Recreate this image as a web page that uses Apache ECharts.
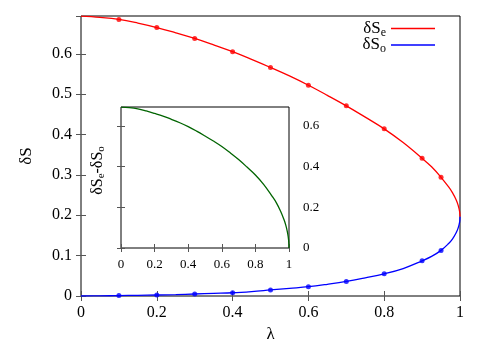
<!DOCTYPE html>
<html>
<head>
<meta charset="utf-8">
<script src="https://cdn.jsdelivr.net/npm/echarts@6/dist/echarts.min.js"></script>
<style>html,body{margin:0;padding:0;background:#fff;}#c{width:498px;height:349px;}</style>
</head>
<body>
<div id="c"></div>
<script>
// λ grid for curves
const lambdas = [0,0.05,0.1,0.15,0.2,0.25,0.3,0.35,0.4,0.45,0.5,0.55,0.6,0.65,0.7,0.75,0.8,0.85,0.9,0.925,0.95,0.97,0.98,0.99,0.995,0.999,1];
const dSe = [0.693,0.690,0.685,0.676,0.665,0.652,0.638,0.622,0.605,0.586,0.566,0.545,0.522,0.497,0.471,0.443,0.414,0.380,0.341,0.320,0.294,0.270,0.256,0.238,0.225,0.209,0.196];
const dSo = [0,0.0002,0.001,0.0017,0.0025,0.0035,0.005,0.0065,0.008,0.011,0.015,0.019,0.023,0.029,0.036,0.045,0.055,0.068,0.087,0.098,0.113,0.130,0.141,0.157,0.168,0.183,0.196];
const dDiff = [0.693,0.690,0.684,0.674,0.662,0.649,0.633,0.616,0.597,0.575,0.551,0.526,0.499,0.468,0.435,0.398,0.359,0.312,0.254,0.222,0.181,0.140,0.115,0.081,0.057,0.026,0];
// sample points (dots)
const dotLambdas = [0.1,0.2,0.3,0.4,0.5,0.6,0.7,0.8,0.9,0.95];
const dotSe = [0.685,0.665,0.638,0.605,0.566,0.522,0.471,0.414,0.341,0.294];
const dotSo = [0.001,0.0025,0.005,0.008,0.015,0.023,0.036,0.055,0.087,0.113];
const legendNames = ['Se','So'];
const legendSubs = {Se:'e', So:'o'};

const pairs = (xs, ys) => xs.map((x, i) => [x, ys[i]]);
const FONT = 'Liberation Serif';
const RED = '#ff0000', BLUE = '#0000ff', GREEN = '#006400';
const tickStyle = {show:true, inside:true, length:5, lineStyle:{color:'#555', width:1}};
const tickStyleS = {show:true, inside:true, length:4, lineStyle:{color:'#555', width:1}};

const chart = echarts.init(document.getElementById('c'), null, {renderer:'canvas'});
chart.setOption({
  animation:false,
  backgroundColor:'#fff',
  color:[RED, BLUE, RED, BLUE, GREEN],
  grid:[
    {left:81, top:16, width:379, height:280, show:true, borderColor:'#000', borderWidth:1, backgroundColor:'transparent'},
    {left:121, top:107, width:168, height:141, show:true, borderColor:'#000', borderWidth:1, backgroundColor:'#fff'}
  ],
  legend:{
    right:58, top:15, orient:'vertical', align:'right', itemGap:-2,
    itemWidth:44, itemHeight:1.4, icon:'rect',
    data:[
      {name:legendNames[0], icon:'rect', itemStyle:{color:RED, borderWidth:0}, lineStyle:{color:RED}},
      {name:legendNames[1], icon:'rect', itemStyle:{color:BLUE, borderWidth:0}, lineStyle:{color:BLUE}}
    ],
    formatter: n => '{a|δS}{b|' + legendSubs[n] + '}',
    textStyle:{fontFamily:FONT, color:'#000', rich:{a:{fontFamily:FONT,fontSize:17,color:'#000'}, b:{fontFamily:FONT,fontSize:12,color:'#000',padding:[8,0,0,0]}}}
  },
  xAxis:[
    {gridIndex:0, type:'value', min:0, max:1, interval:0.2, position:'bottom',
     name:'λ', nameLocation:'middle', nameGap:29, nameTextStyle:{fontFamily:FONT, fontSize:17, color:'#000'},
     axisLine:{show:false}, axisTick:tickStyle, splitLine:{show:false},
     axisLabel:{fontFamily:FONT, fontSize:16, color:'#000', margin:9}},
    {gridIndex:0, type:'value', min:0, max:1, interval:0.2, position:'top',
     axisLine:{show:false}, axisTick:tickStyle, splitLine:{show:false}, axisLabel:{show:false}},
    {gridIndex:1, type:'value', min:0, max:1, interval:0.2, position:'bottom',
     axisLine:{show:false}, axisTick:tickStyleS, splitLine:{show:false},
     axisLabel:{fontFamily:FONT, fontSize:13, color:'#000', margin:10}},
    {gridIndex:1, type:'value', min:0, max:1, interval:0.2, position:'top',
     axisLine:{show:false}, axisTick:tickStyleS, splitLine:{show:false}, axisLabel:{show:false}}
  ],
  yAxis:[
    {gridIndex:0, type:'value', min:0, max:0.6935, interval:0.1, position:'left',
     name:'δS', nameLocation:'middle', nameGap:46, nameRotate:90, nameTextStyle:{fontFamily:FONT, fontSize:17, color:'#000'},
     axisLine:{show:false}, axisTick:tickStyle, splitLine:{show:false},
     axisLabel:{fontFamily:FONT, fontSize:16, color:'#000', margin:9, showMaxLabel:false}},
    {gridIndex:0, type:'value', min:0, max:0.6935, interval:0.1, position:'right',
     axisLine:{show:false}, axisTick:tickStyle, splitLine:{show:false}, axisLabel:{show:false}},
    {gridIndex:1, type:'value', min:0, max:0.6935, interval:0.2, position:'left',
     name:'{a|δS}{b|e}{a|-δS}{b|o}', nameLocation:'middle', nameGap:14, nameRotate:90,
     nameTextStyle:{fontFamily:FONT, color:'#000', padding:[0,0,0,14], rich:{a:{fontFamily:FONT,fontSize:16,color:'#000'}, b:{fontFamily:FONT,fontSize:11,color:'#000',padding:[8,0,0,0]}}},
     axisLine:{show:false}, axisTick:tickStyleS, splitLine:{show:false}, axisLabel:{show:false}},
    {gridIndex:1, type:'value', min:0, max:0.6935, interval:0.2, position:'right',
     axisLine:{show:false}, axisTick:tickStyleS, splitLine:{show:false},
     axisLabel:{fontFamily:FONT, fontSize:13, color:'#000', margin:14, showMaxLabel:false}}
  ],
  series:[
    {name:legendNames[0], type:'line', xAxisIndex:0, yAxisIndex:0, data:pairs(lambdas, dSe), showSymbol:false, symbol:'none',
     smooth:0.4, color:RED, lineStyle:{color:RED, width:1.3}, itemStyle:{color:RED}, z:3},
    {name:legendNames[1], type:'line', xAxisIndex:0, yAxisIndex:0, data:pairs(lambdas, dSo), showSymbol:false, symbol:'none',
     smooth:0.4, color:BLUE, lineStyle:{color:BLUE, width:1.3}, itemStyle:{color:BLUE}, z:3},
    {name:'dotsSe', type:'scatter', xAxisIndex:0, yAxisIndex:0, data:pairs(dotLambdas, dotSe), symbolSize:5, itemStyle:{color:RED}, z:4},
    {name:'dotsSo', type:'scatter', xAxisIndex:0, yAxisIndex:0, data:pairs(dotLambdas, dotSo), symbolSize:5, itemStyle:{color:BLUE}, z:4},
    {name:'diff', type:'line', xAxisIndex:2, yAxisIndex:2, data:pairs(lambdas, dDiff), showSymbol:false, symbol:'none',
     smooth:0.4, color:GREEN, lineStyle:{color:GREEN, width:1.3}, z:5}
  ]
});
</script>
</body>
</html>
